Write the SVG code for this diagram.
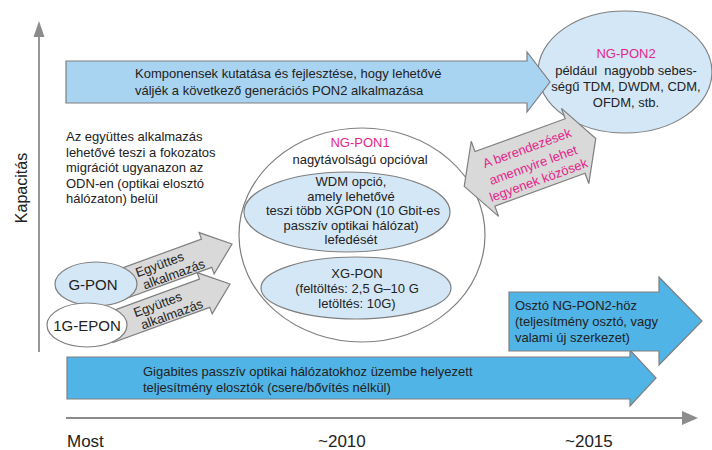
<svg xmlns="http://www.w3.org/2000/svg" width="712" height="450" viewBox="0 0 712 450">
<style>
text{font-family:"Liberation Sans",Arial,sans-serif;font-size:13px;fill:#222222}
.big{font-size:15px}
.ax{font-size:17px}
.mg{fill:#e4258b}
.c{text-anchor:middle}
.sh{stroke:#7f7f7f;stroke-width:1.2}
.lb{fill:#a9d4f1}
.pb{fill:#d4e7f6}
.mb{fill:#50b4e6}
.gr{fill:#d9d9d9}
.wh{fill:#ffffff}
.axis{stroke:#8c8c8c;stroke-width:1.8;fill:none}
</style>

<g id="axes">
<line class="axis" x1="39" y1="36" x2="39" y2="352"/>
<polygon points="39,21 33.5,37 44.5,37" fill="#8c8c8c"/>
<line class="axis" x1="66" y1="418" x2="684" y2="418" stroke-width="1.5"/>
<polygon points="698,418 682,411 682,425" fill="#8c8c8c"/>
<text class="ax" transform="translate(27,188) rotate(-90)" text-anchor="middle" style="font-size:16px">Kapacitás</text>
<text class="ax" x="67" y="447">Most</text>
<text class="ax" x="318" y="447">~2010</text>
<text class="ax" x="565" y="447">~2015</text>
</g>

<g id="node-ngpon2">
<ellipse class="pb sh" cx="625" cy="72" rx="87" ry="61"/>
</g>

<g id="node-research">
<polygon class="lb sh" points="66,61 527,61 527,52 550,82 527,112 527,103 66,103"/>
<text x="135" y="78">Komponensek kutatása és fejlesztése, hogy lehetővé</text>
<text x="135" y="95">váljék a következő generációs PON2 alkalmazása</text>
</g>

<g id="node-ngpon2-text">
<text class="c mg" x="626" y="58">NG-PON2</text>
<text class="c" x="626" y="75">például&#160; nagyobb sebes-</text>
<text class="c" x="626" y="91">ségű TDM, DWDM, CDM,</text>
<text class="c" x="626" y="107">OFDM, stb.</text>
</g>

<g id="node-note">
<text x="66" y="141">Az együttes alkalmazás</text>
<text x="66" y="156.5">lehetővé teszi a fokozatos</text>
<text x="66" y="172">migrációt ugyanazon az</text>
<text x="66" y="187.5">ODN-en (optikai elosztó</text>
<text x="66" y="203">hálózaton) belül</text>
</g>

<g id="node-ngpon1">
<ellipse class="wh sh" cx="362" cy="235" rx="123" ry="107"/>
<text class="c mg" x="360" y="147">NG-PON1</text>
<text class="c" x="360" y="164">nagytávolságú opcióval</text>
</g>

<g id="node-wdm">
<ellipse class="pb sh" cx="347" cy="212" rx="103" ry="40"/>
<text class="c" x="351" y="186">WDM opció,</text>
<text class="c" x="351" y="200.5">amely lehetővé</text>
<text class="c" x="353" y="215">teszi több XGPON (10 Gbit-es</text>
<text class="c" x="351" y="229.5">passzív optikai hálózat)</text>
<text class="c" x="351" y="244">lefedését</text>
</g>

<g id="node-xgpon">
<ellipse class="pb sh" cx="356" cy="288" rx="95" ry="31"/>
<text class="c" x="357" y="278">XG-PON</text>
<text class="c" x="357" y="293">(feltöltés: 2,5 G–10 G</text>
<text class="c" x="357" y="308">letöltés: 10G)</text>
</g>

<g id="node-bottom">
<polygon class="mb sh" points="67,357 630,357 630,350 656,378 630,406 630,399 67,399"/>
<text x="143" y="376">Gigabites passzív optikai hálózatokhoz üzembe helyezett</text>
<text x="143" y="392">teljesítmény elosztók (csere/bővítés nélkül)</text>
</g>

<g id="node-splitter">
<polygon class="mb sh" points="509,292 659,292 659,277 702,321 659,365 659,351 509,351"/>
<text x="515" y="310">Osztó NG-PON2-höz</text>
<text x="515" y="326">(teljesítmény osztó, vagy</text>
<text x="515" y="342">valami új szerkezet)</text>
</g>

<g id="connectors">
<g transform="translate(232,244) rotate(-20)">
<polygon class="gr sh" points="0,0 -27,-22 -27,-15 -130,-15 -130,15 -27,15 -27,22"/>
<text class="c" x="-75" y="-1">Együttes</text>
<text class="c" x="-65" y="13">alkalmazás</text>
</g>
<g transform="translate(230,284) rotate(-20)">
<polygon class="gr sh" points="0,0 -27,-22 -27,-15 -130,-15 -130,15 -27,15 -27,22"/>
<text class="c" x="-75" y="-1">Együttes</text>
<text class="c" x="-65" y="13">alkalmazás</text>
</g>
<g transform="translate(530,162.4) rotate(-20)">
<polygon class="gr sh" points="-70,0 -48,-40 -48,-29 48,-29 48,-40 70,0 48,40 48,29 -48,29 -48,40"/>
<text class="c mg" x="2" y="-10">A berendezések</text>
<text class="c mg" x="2" y="8">amennyire lehet</text>
<text class="c mg" x="2" y="24">legyenek közösek</text>
</g>
</g>

<g id="node-gpon">
<ellipse class="pb sh" cx="96" cy="284" rx="41" ry="22"/>
<text class="c big" x="93" y="289.5">G-PON</text>
</g>

<g id="node-1gepon">
<ellipse class="wh sh" cx="87" cy="325" rx="40" ry="22"/>
<text class="c big" x="87" y="331">1G-EPON</text>
</g>
</svg>
